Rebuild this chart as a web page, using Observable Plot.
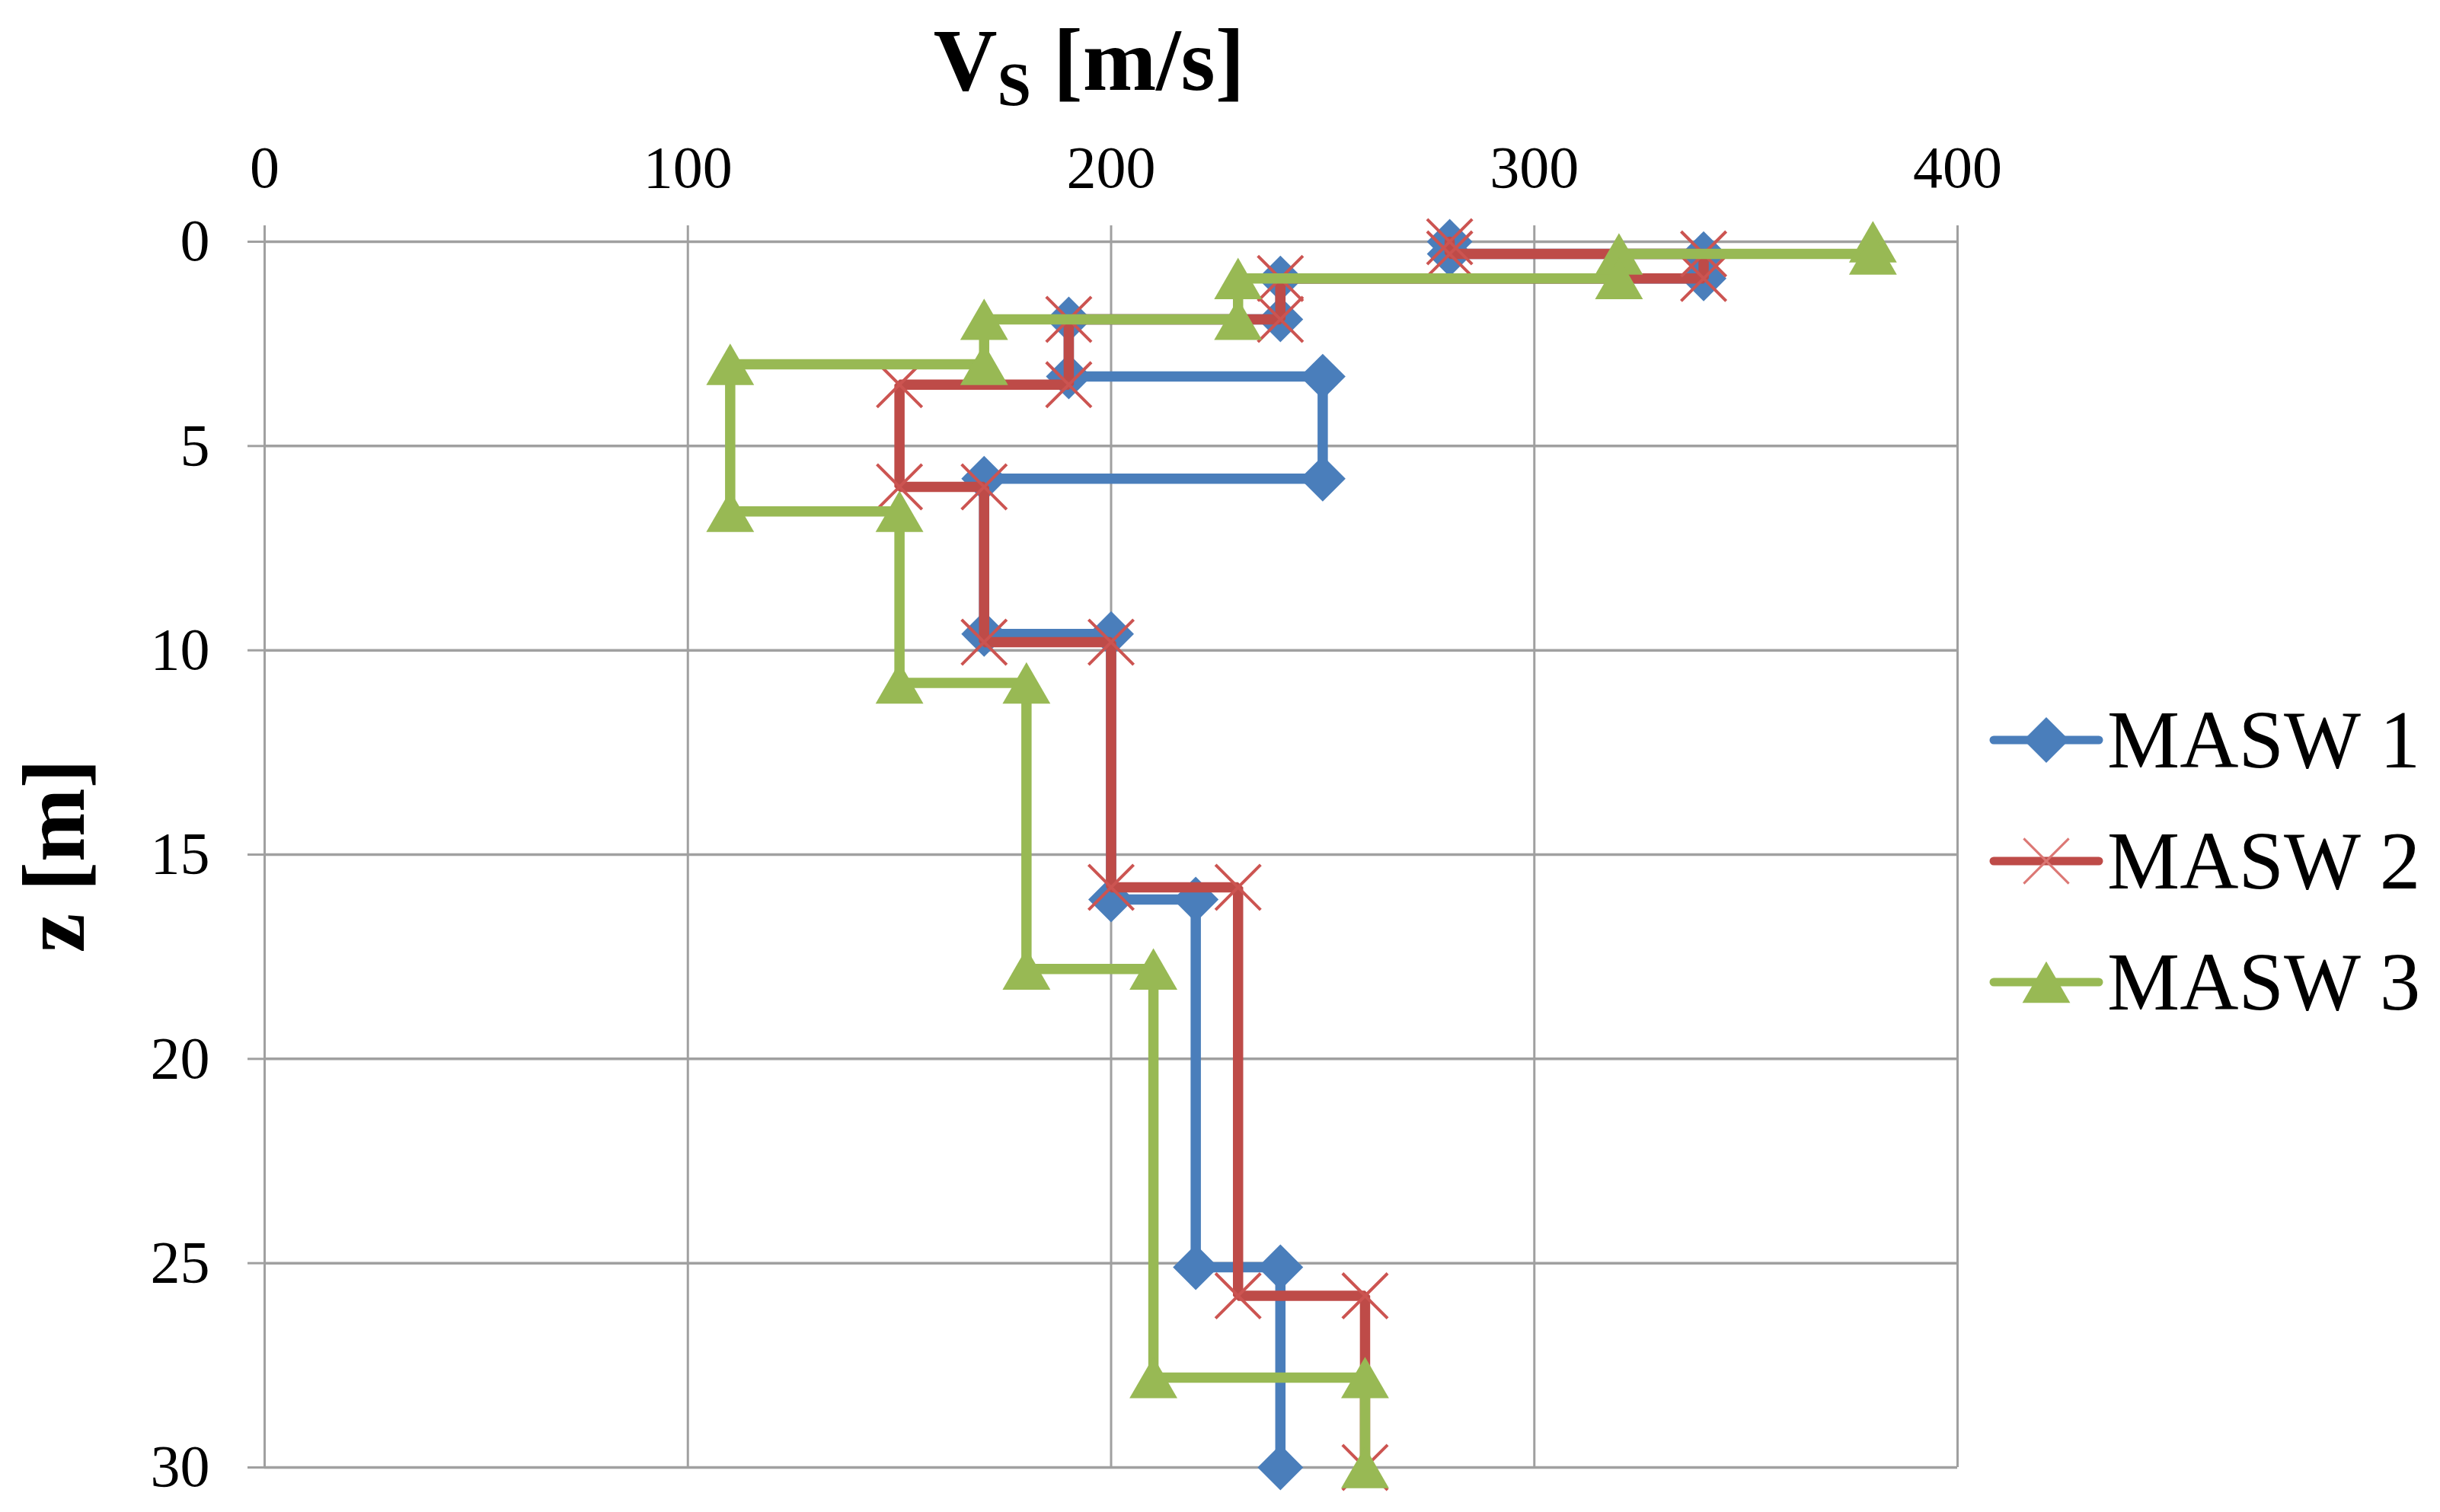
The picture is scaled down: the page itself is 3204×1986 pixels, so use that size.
<!DOCTYPE html>
<html>
<head>
<meta charset="utf-8">
<script src="https://cdn.jsdelivr.net/npm/d3@7"></script>
<script src="https://cdn.jsdelivr.net/npm/@observablehq/plot@0.6"></script>
<style>
html,body{margin:0;padding:0;background:#fff;overflow:hidden}
</style>
</head>
<body>
<div id="chart"></div>
<script>
// ---- data ----
const seriesNames = ["MASW 1", "MASW 2", "MASW 3"];
const masw1Vs = [280, 280, 340, 340, 240, 240, 190, 190, 250, 250, 170, 170, 200, 200, 220, 220, 240, 240];
const masw1Z  = [0, 0.3, 0.3, 0.9, 0.9, 1.9, 1.9, 3.3, 3.3, 5.8, 5.8, 9.6, 9.6, 16.1, 16.1, 25.1, 25.1, 30];
const masw2Vs = [280, 280, 340, 340, 240, 240, 190, 190, 150, 150, 170, 170, 200, 200, 230, 230, 260, 260];
const masw2Z  = [0, 0.3, 0.3, 0.9, 0.9, 1.9, 1.9, 3.5, 3.5, 6.0, 6.0, 9.8, 9.8, 15.8, 15.8, 25.8, 25.8, 30];
const masw3Vs = [380, 380, 320, 320, 230, 230, 170, 170, 110, 110, 150, 150, 180, 180, 210, 210, 260, 260];
const masw3Z  = [0, 0.3, 0.3, 0.9, 0.9, 1.9, 1.9, 3.0, 3.0, 6.6, 6.6, 10.8, 10.8, 17.8, 17.8, 27.8, 27.8, 30];
const xTicks = [0, 100, 200, 300, 400];
const zTicks = [0, 5, 10, 15, 20, 25, 30];
const xTitle = "V";
const xTitleSub = "S";
const xTitleRest = " [m/s]";
const yTitle = "z [m]";

// ---- styling ----
const colors = ["#4a7ebb", "#be4b48", "#98b954"];
const W = 3204, H = 1986;
const mL = 347, mR = 634, mT = 317, mB = 59;
const serif = "'Liberation Serif','Times New Roman',serif";
const rDiamond = 27, rTimes = 27, rTri = 30;

const rows = (name, vs, z) => vs.map((v, i) => ({series: name, vs: v, z: z[i]}));
const r1 = rows(seriesNames[0], masw1Vs, masw1Z);
const r2 = rows(seriesNames[1], masw2Vs, masw2Z);
const r3 = rows(seriesNames[2], masw3Vs, masw3Z);

const lineOpts = (c) => ({x: "vs", y: "z", stroke: c, strokeWidth: 13.5, strokeLinejoin: "miter", curve: "linear"});

const plot = Plot.plot({
  width: W, height: H,
  marginLeft: mL, marginRight: mR, marginTop: mT, marginBottom: mB,
  style: {fontFamily: serif, fontSize: "78px", color: "#000", background: "#fff", overflow: "visible"},
  x: {domain: [0, 400], ticks: xTicks, label: null},
  y: {domain: [0, 30], reverse: true, ticks: zTicks, label: null},
  marks: [
    Plot.gridX(xTicks, {stroke: "#a0a0a0", strokeOpacity: 1, strokeWidth: 3}),
    Plot.gridY(zTicks, {stroke: "#a0a0a0", strokeOpacity: 1, strokeWidth: 3.5}),
    Plot.axisX(xTicks, {anchor: "top", tickSize: 22, tickPadding: 50, stroke: "#a0a0a0", strokeWidth: 3, fill: "#000", label: null, fontSize: 78, tickFormat: d => String(d)}),
    Plot.axisY(zTicks, {anchor: "left", tickSize: 22, tickPadding: 50, stroke: "#a0a0a0", strokeWidth: 3, fill: "#000", label: null, fontSize: 78, tickFormat: d => String(d)}),
    // MASW 1
    Plot.line(r1, lineOpts(colors[0])),
    Plot.dot(r1, {x: "vs", y: "z", symbol: "diamond2", r: rDiamond, fill: colors[0], stroke: "none"}),
    // MASW 2
    Plot.line(r2, lineOpts(colors[1])),
    Plot.dot(r2, {x: "vs", y: "z", symbol: "times", r: rTimes, fill: "none", stroke: "#cc5451", strokeWidth: 4}),
    // MASW 3
    Plot.line(r3, lineOpts(colors[2])),
    Plot.dot(r3, {x: "vs", y: "z", symbol: "triangle2", r: rTri, dy: 9, fill: colors[2], stroke: "none"})
  ]
});

document.getElementById("chart").appendChild(plot);

// ---- titles and legend (annotations inside the same svg) ----
const svg = d3.select(plot);

const t = svg.append("text")
  .attr("x", 1430).attr("y", 118)
  .attr("text-anchor", "middle")
  .attr("font-family", serif).attr("font-weight", "bold").attr("font-size", 116)
  .attr("fill", "#000");
t.append("tspan").text(xTitle);
t.append("tspan").attr("font-size", 80).attr("dy", 20).text(xTitleSub);
t.append("tspan").attr("dy", -20).text(xTitleRest);

svg.append("text")
  .attr("transform", "translate(110,1124) rotate(-90)")
  .attr("text-anchor", "middle")
  .attr("font-family", serif).attr("font-weight", "bold").attr("font-size", 116)
  .attr("fill", "#000")
  .text(yTitle);

const legendY = [972, 1131, 1290];
const symbols = [d3.symbolDiamond2, d3.symbolTimes, d3.symbolTriangle2];
const symSizes = [Math.PI * rDiamond * rDiamond, Math.PI * rTimes * rTimes, Math.PI * rTri * rTri];
const lg = svg.append("g");
seriesNames.forEach((name, i) => {
  const y = legendY[i];
  lg.append("line")
    .attr("x1", 2618).attr("x2", 2756).attr("y1", y).attr("y2", y)
    .attr("stroke", colors[i]).attr("stroke-width", 11).attr("stroke-linecap", "round");
  const p = lg.append("path")
    .attr("d", d3.symbol(symbols[i], symSizes[i])())
    .attr("transform", `translate(2687,${y + (i === 2 ? 9 : 0)})`);
  if (i === 1) p.attr("fill", "none").attr("stroke", "#dc7774").attr("stroke-width", 3);
  else p.attr("fill", colors[i]);
  lg.append("text")
    .attr("x", 2767).attr("y", y + 36)
    .attr("text-anchor", "start")
    .attr("font-family", serif).attr("font-size", 107).attr("fill", "#000")
    .text(name);
});
</script>
</body>
</html>
